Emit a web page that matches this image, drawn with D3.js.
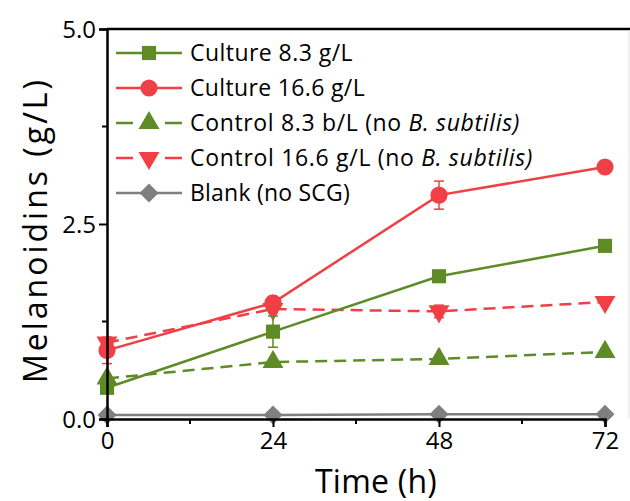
<!DOCTYPE html>
<meta charset="utf-8">
<script src="https://d3js.org/d3.v7.min.js"></script>
<style>
  body { margin: 0; background: #fff; }
  text { font-family: "Open Sans", "Noto Sans", sans-serif; }
</style>
<body>
<div id="chart"></div>
<script>
  // data
  var times = [0, 24, 48, 72];
  var culture83 = [0.40, 1.12, 1.83, 2.22];
  var culture83Err = [0.05, 0.20, 0.05, 0.04];
  var culture166 = [0.88, 1.49, 2.87, 3.23];
  var culture166Err = [0.17, 0.08, 0.18, 0.04];
  var control83 = [0.52, 0.73, 0.77, 0.86];
  var control83Err = [0.03, 0.03, 0.03, 0.03];
  var control166 = [0.98, 1.41, 1.38, 1.50];
  var control166Err = [0.04, 0.05, 0.08, 0.03];
  var blank = [0.05, 0.05, 0.06, 0.06];
  var blankErr = [0, 0, 0, 0];
  var yTicks = [0, 2.5, 5.0];

  var series = [
    {name: "Culture 8.3 g/L", values: culture83, err: culture83Err, color: "#5e8b25", dash: null, symbol: d3.symbolSquare, size: 200, len: 163},
    {name: "Culture 16.6 g/L", values: culture166, err: culture166Err, color: "#f04045", dash: null, symbol: d3.symbolCircle, size: 230, len: 175},
    {name: "Control 8.3 b/L (no ", italic: "B. subtilis)", values: control83, err: control83Err, color: "#5e8b25", dash: "12,7", symbol: d3.symbolTriangle, size: 190, len: 330},
    {name: "Control 16.6 g/L (no ", italic: "B. subtilis)", values: control166, err: control166Err, color: "#f04045", dash: "12,7", symbol: "down", size: 190, len: 343},
    {name: "Blank (no SCG)", values: blank, err: blankErr, color: "#7f7f7f", dash: null, symbol: d3.symbolDiamond2, size: 230, len: 160}
  ];

  var W = 630, H = 501;
  var margin = {top: 29, right: 0, bottom: 82, left: 107};
  var width = W - margin.left - margin.right,
      height = H - margin.top - margin.bottom;

  var svg = d3.select("#chart").append("svg")
      .attr("width", W).attr("height", H)
    .append("g")
      .attr("transform", "translate(" + margin.left + "," + margin.top + ")");

  var x = d3.scaleLinear().domain([0, 72]).range([0, 498]);
  var y = d3.scaleLinear().domain([0, 5]).range([height, 0]);

  function marker(s) {
    var t = s.symbol === "down" ? d3.symbolTriangle : s.symbol;
    return d3.symbol().type(t).size(s.size)();
  }
  function rot(s) { return s.symbol === "down" ? " rotate(180)" : ""; }

  // stretch a text to the width it has in the reference
  function fit(sel, target) {
    var node = sel.node();
    var n = node.textContent.length;
    var len = node.getComputedTextLength();
    sel.attr("letter-spacing", (target - len) / n);
  }

  // frame top
  svg.append("line").attr("x1", 0).attr("x2", width).attr("y1", 0).attr("y2", 0)
    .attr("stroke", "#000").attr("stroke-width", 2.5);
  svg.append("line").attr("x1", width - 1).attr("x2", width - 1).attr("y1", 1).attr("y2", height)
    .attr("stroke", "#e4e4e4").attr("stroke-width", 1);

  // series
  var line = d3.line().x(function(d, i) { return x(times[i]); }).y(function(d) { return y(d); });
  series.slice().reverse().forEach(function(s) {
    var g = svg.append("g");
    g.append("path").datum(s.values)
      .attr("d", line).attr("fill", "none")
      .attr("stroke", s.color).attr("stroke-width", 2.5)
      .attr("stroke-dasharray", s.dash);
    s.values.forEach(function(v, i) {
      if (s.err[i] > 0.04) {
        var cx = x(times[i]);
        g.append("line").attr("x1", cx).attr("x2", cx)
          .attr("y1", y(v - s.err[i])).attr("y2", y(v + s.err[i]))
          .attr("stroke", s.color).attr("stroke-width", 1.5);
        [v - s.err[i], v + s.err[i]].forEach(function(e) {
          g.append("line").attr("x1", cx - 5).attr("x2", cx + 5)
            .attr("y1", y(e)).attr("y2", y(e))
            .attr("stroke", s.color).attr("stroke-width", 1.5);
        });
      }
      g.append("path").attr("d", marker(s))
        .attr("transform", "translate(" + x(times[i]) + "," + y(v) + ")" + rot(s))
        .attr("fill", s.color);
    });
  });

  // axes
  var xAxis = svg.append("g").attr("transform", "translate(0," + height + ")")
    .call(d3.axisBottom(x).tickValues(times).tickSize(8).tickPadding(3));
  xAxis.append("g").selectAll("line").data([12, 36, 60]).enter().append("line")
    .attr("x1", function(d) { return x(d); }).attr("x2", function(d) { return x(d); })
    .attr("y1", 0).attr("y2", 5).attr("stroke", "#000").attr("stroke-width", 2);

  var yAxis = svg.append("g")
    .call(d3.axisLeft(y).tickValues(yTicks).tickFormat(d3.format(".1f")).tickSize(8).tickPadding(3));
  yAxis.append("g").selectAll("line").data([1.25, 3.75]).enter().append("line")
    .attr("y1", function(d) { return y(d); }).attr("y2", function(d) { return y(d); })
    .attr("x1", 0).attr("x2", -5).attr("stroke", "#000").attr("stroke-width", 2);

  [xAxis, yAxis].forEach(function(a) {
    a.select(".domain").attr("stroke-width", 2.5);
    a.selectAll(".tick line").attr("stroke-width", 2);
    a.selectAll(".tick text").attr("font-size", 24).attr("fill", "#000")
      .style("font-family", "'Open Sans', sans-serif");
  });
  xAxis.selectAll(".tick text").attr("dy", "0.8em");
  yAxis.selectAll(".tick text").attr("dy", "0.36em");

  var xt = svg.append("text").attr("x", 376 - margin.left).attr("y", height + 74)
    .attr("text-anchor", "middle").attr("font-size", 32).text("Time (h)");
  fit(xt, 122);
  var yt = svg.append("text")
    .attr("transform", "translate(-60," + (230 - margin.top) + ") rotate(-90)")
    .attr("text-anchor", "middle").attr("font-size", 32).text("Melanoidins (g/L)");
  fit(yt, 306);

  // legend
  var leg = svg.append("g").attr("transform", "translate(9,24)");
  series.forEach(function(s, i) {
    var r = leg.append("g").attr("transform", "translate(0," + (i * 35) + ")");
    r.append("line").attr("x1", 0).attr("x2", 66).attr("y1", 0).attr("y2", 0)
      .attr("stroke", s.color).attr("stroke-width", 2.5)
      .attr("stroke-dasharray", s.dash ? "17,10,12,10,17" : null);
    r.append("path").attr("d", marker(s))
      .attr("transform", "translate(33,0)" + rot(s)).attr("fill", s.color);
    var t = r.append("text").attr("x", 74).attr("y", 0).attr("dy", "0.36em")
      .attr("font-size", 23).attr("fill", "#000");
    t.append("tspan").text(s.name);
    if (s.italic) t.append("tspan").attr("font-style", "italic").text(s.italic);
    fit(t, s.len);
  });
</script>
</body>
